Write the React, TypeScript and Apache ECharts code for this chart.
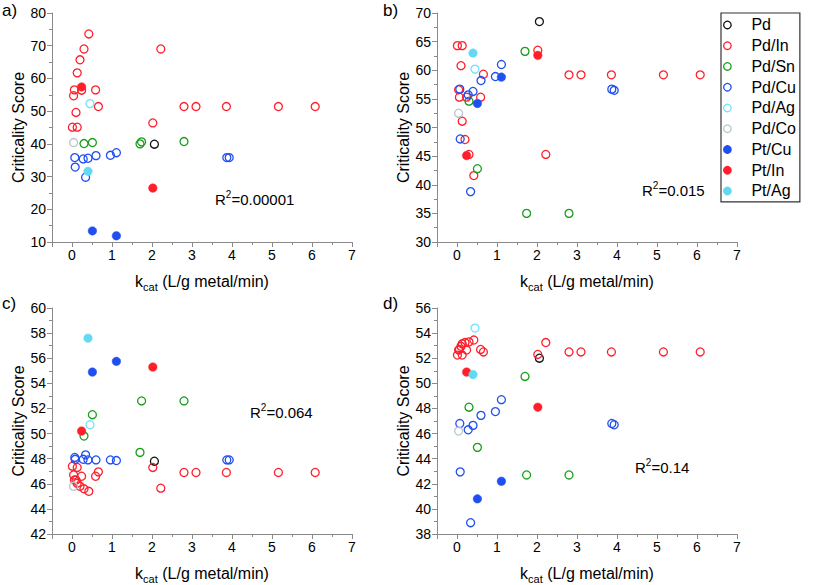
import { useEffect, useRef } from 'react';
import * as echarts from 'echarts';

// ---------- data ----------
const seriesNames = ['Pd', 'Pd/In', 'Pd/Sn', 'Pd/Cu', 'Pd/Ag', 'Pd/Co', 'Pt/Cu', 'Pt/In', 'Pt/Ag'];
const xTickLabels = ['0', '1', '2', '3', '4', '5', '6', '7'];

// kcat (L/g metal/min) of each catalyst
const kcatPd = [2.06];
const kcatPdIn = [0.01, 0.13, 0.10, 0.04, 0.06, 0.13, 0.20, 0.30, 0.42, 0.24, 0.59, 0.66, 2.02, 2.22, 2.80, 3.10, 3.86, 5.16, 6.08];
const kcatPdSn = [0.30, 0.51, 1.70, 1.74, 2.80];
const kcatPdCu = [0.07, 0.08, 0.28, 0.40, 0.60, 0.96, 1.11, 0.34, 3.87, 3.93];
const kcatPdAg = [0.45];
const kcatPdCo = [0.04];
const kcatPtCu = [0.51, 1.11];
const kcatPtIn = [0.24, 2.02];
const kcatPtAg = [0.40];

// panel a
const pdA = [39.9];
const pdInA = [45.1, 45.1, 49.6, 54.7, 56.5, 61.7, 65.7, 69.0, 73.6, 56.4, 56.5, 51.4, 46.4, 69.0, 51.4, 51.4, 51.4, 51.4, 51.4];
const pdSnA = [40.1, 40.4, 40.0, 40.6, 40.7];
const pdCuA = [35.8, 32.9, 35.4, 35.6, 36.4, 36.5, 37.3, 29.8, 35.8, 35.8];
const pdAgA = [52.3];
const pdCoA = [40.4];
const ptCuA = [13.4, 11.9];
const ptInA = [57.4, 26.5];
const ptAgA = [31.6];

// panel b
const pdB = [68.5];
const pdInB = [64.3, 64.3, 60.8, 56.6, 55.3, 51.1, 47.9, 45.3, 41.6, 55.3, 55.3, 59.3, 63.5, 45.3, 59.2, 59.2, 59.2, 59.2, 59.2];
const pdSnB = [54.6, 42.8, 63.3, 35.0, 35.0];
const pdCuB = [56.7, 48.0, 55.7, 56.3, 58.2, 58.9, 61.0, 38.8, 56.7, 56.5];
const pdAgB = [60.2];
const pdCoB = [52.5];
const ptCuB = [54.2, 58.8];
const ptInB = [45.1, 62.6];
const ptAgB = [63.0];

// panel c
const pdC = [47.8];
const pdInC = [47.4, 47.3, 46.3, 46.7, 46.3, 46.05, 45.8, 45.6, 45.4, 46.6, 46.6, 46.95, 47.3, 45.65, 46.9, 46.9, 46.9, 46.9, 46.9];
const pdSnC = [49.8, 51.5, 48.5, 52.6, 52.6];
const pdCuC = [48.1, 47.95, 47.95, 47.9, 47.9, 47.9, 47.85, 48.3, 47.9, 47.9];
const pdAgC = [50.7];
const pdCoC = [45.8];
const ptCuC = [54.9, 55.75];
const ptInC = [50.2, 55.3];
const ptAgC = [57.6];

// panel d
const pdD = [52.0];
const pdInD = [52.25, 52.25, 52.95, 52.65, 52.7, 53.15, 53.25, 53.3, 53.45, 52.65, 52.7, 52.5, 52.3, 53.25, 52.5, 52.5, 52.5, 52.5, 52.5];
const pdSnD = [48.1, 44.9, 50.55, 42.7, 42.7];
const pdCuD = [46.8, 42.95, 46.3, 46.65, 47.45, 47.75, 48.7, 38.9, 46.8, 46.7];
const pdAgD = [54.4];
const pdCoD = [46.2];
const ptCuD = [40.8, 42.2];
const ptInD = [50.9, 48.1];
const ptAgD = [50.7];

const yMins = [10, 30, 42, 38];
const yMaxs = [80, 70, 60, 56];
const yIntervals = [10, 5, 2, 2];
const panelLabels = ['a)', 'b)', 'c)', 'd)'];
const r2Values = ['0.00001', '0.015', '0.064', '0.14'];

// ---------- styling ----------
const FONT = 'Liberation Sans, Arial, sans-serif';
const AXIS_COLOR = '#8a8a8a';
const grids = [
  { left: 52, top: 13, width: 300, height: 229 },
  { left: 437, top: 13, width: 300, height: 229 },
  { left: 52, top: 308, width: 300, height: 229 },
  { left: 437, top: 308, width: 300, height: 229 },
];
const r2Pos = [
  { left: 215, top: 189 },
  { left: 642, top: 180 },
  { left: 250, top: 402 },
  { left: 635, top: 457 },
];
const labelPos = [
  { left: 2, top: 2 },
  { left: 383, top: 2 },
  { left: 2, top: 295 },
  { left: 383, top: 295 },
];

const styleDefs = [
  { color: '#111111', filled: false },
  { color: '#ff1f2b', filled: false },
  { color: '#1a9e1a', filled: false },
  { color: '#1f4ff0', filled: false },
  { color: '#6fe3ff', filled: false },
  { color: '#b8c6cc', filled: false },
  { color: '#1f4ff0', filled: true },
  { color: '#ff1f2b', filled: true },
  { color: '#62d8f2', filled: true },
];

const kcats = [kcatPd, kcatPdIn, kcatPdSn, kcatPdCu, kcatPdAg, kcatPdCo, kcatPtCu, kcatPtIn, kcatPtAg];
const panelValues = [
  [pdA, pdInA, pdSnA, pdCuA, pdAgA, pdCoA, ptCuA, ptInA, ptAgA],
  [pdB, pdInB, pdSnB, pdCuB, pdAgB, pdCoB, ptCuB, ptInB, ptAgB],
  [pdC, pdInC, pdSnC, pdCuC, pdAgC, pdCoC, ptCuC, ptInC, ptAgC],
  [pdD, pdInD, pdSnD, pdCuD, pdAgD, pdCoD, ptCuD, ptInD, ptAgD],
];

function buildOption() {
  const xAxis: any[] = [];
  const yAxis: any[] = [];
  const series: any[] = [];
  const graphic: any[] = [];

  grids.forEach((_, i) => {
    xAxis.push({
      gridIndex: i,
      type: 'value',
      min: -0.5,
      max: 7,
      splitNumber: 8,
      minInterval: 1,
      maxInterval: 1,
      axisLine: { show: true, onZero: false, lineStyle: { color: AXIS_COLOR, width: 1 } },
      axisTick: { show: true, length: 5, lineStyle: { color: AXIS_COLOR } },
      axisLabel: {
        fontSize: 14,
        color: '#000',
        fontFamily: FONT,
        margin: 6,
        formatter: (v: number) => (Number.isInteger(v) && v >= 0 ? xTickLabels[v] : ''),
      },
      splitLine: { show: false },
      name: '{a|k}{b|cat}{a| (L/g metal/min)}',
      nameLocation: 'middle',
      nameGap: 28,
      nameTextStyle: {
        color: '#000',
        fontFamily: FONT,
        rich: {
          a: { fontSize: 16, fontFamily: FONT, color: '#000', lineHeight: 22 },
          b: { fontSize: 11, fontFamily: FONT, color: '#000', lineHeight: 22, verticalAlign: 'bottom' },
        },
      },
    });
    // minor ticks at half units
    xAxis.push({
      gridIndex: i,
      type: 'value',
      min: -0.5,
      max: 7,
      interval: 0.5,
      position: 'bottom',
      axisLine: { show: false, onZero: false },
      axisTick: { show: true, length: 3, lineStyle: { color: AXIS_COLOR } },
      axisLabel: { show: false },
      splitLine: { show: false },
    });
    yAxis.push({
      gridIndex: i,
      type: 'value',
      min: yMins[i],
      max: yMaxs[i],
      interval: yIntervals[i],
      axisLine: { show: true, onZero: false, lineStyle: { color: AXIS_COLOR, width: 1 } },
      axisTick: { show: true, length: 5, lineStyle: { color: AXIS_COLOR } },
      minorTick: { show: true, splitNumber: 2, length: 3, lineStyle: { color: AXIS_COLOR } },
      axisLabel: { fontSize: 14, color: '#000', fontFamily: FONT, margin: 6 },
      splitLine: { show: false },
      minorSplitLine: { show: false },
      name: 'Criticality Score',
      nameLocation: 'middle',
      nameGap: 26,
      nameTextStyle: { fontSize: 16, color: '#000', fontFamily: FONT },
    });

    seriesNames.forEach((name, s) => {
      const st = styleDefs[s];
      const ys = panelValues[i][s];
      series.push({
        type: 'scatter',
        name,
        xAxisIndex: i * 2,
        yAxisIndex: i,
        symbol: 'circle',
        symbolSize: st.filled ? 8.5 : 8,
        itemStyle: {
          color: st.filled ? st.color : 'rgba(0,0,0,0)',
          borderColor: st.color,
          borderWidth: st.filled ? 0.5 : 1.3,
          opacity: 1,
        },
        emphasis: { disabled: true },
        data: kcats[s].map((x, k) => [x, ys[k]]),
        z: st.filled ? 3 : 2,
      });
    });

    graphic.push({
      type: 'text',
      left: labelPos[i].left,
      top: labelPos[i].top,
      style: { text: panelLabels[i], fontSize: 17, fontFamily: FONT, fill: '#000' },
    });
    graphic.push({
      type: 'text',
      left: r2Pos[i].left,
      top: r2Pos[i].top,
      style: {
        text: `{r|R}{s|2}{r|=${r2Values[i]}}`,
        fill: '#000',
        fontFamily: FONT,
        rich: {
          r: { fontSize: 15, fontFamily: FONT, fill: '#000', lineHeight: 20 },
          s: { fontSize: 10, fontFamily: FONT, fill: '#000', lineHeight: 20, verticalAlign: 'top' },
        },
      },
    });
  });

  return {
    animation: false,
    backgroundColor: '#ffffff',
    textStyle: { fontFamily: FONT },
    grid: grids.map((g) => ({ ...g, containLabel: false })),
    xAxis,
    yAxis,
    series,
    graphic,
    legend: {
      data: seriesNames.map((n) => ({ name: n, icon: 'circle' })),
      orient: 'vertical',
      left: 721,
      top: 13,
      itemWidth: 38,
      itemHeight: 7.5,
      itemGap: 0,
      padding: [1.6, 4, 0.6, 2],
      borderColor: '#333',
      borderWidth: 1.2,
      backgroundColor: '#fff',
      selectedMode: false,
      itemStyle: { borderWidth: 1.3 },
      textStyle: { fontSize: 16, lineHeight: 20.75, color: '#000', fontFamily: FONT },
    },
  };
}

export default function App() {
  const ref = useRef<HTMLDivElement>(null);
  useEffect(() => {
    if (!ref.current) return;
    const chart = echarts.init(ref.current, null, { renderer: 'svg' });
    chart.setOption(buildOption() as any);
    return () => chart.dispose();
  }, []);
  return (
    <div
      ref={ref}
      style={{ position: 'absolute', left: 0, top: 0, width: 817, height: 585, background: '#fff' }}
    />
  );
}
